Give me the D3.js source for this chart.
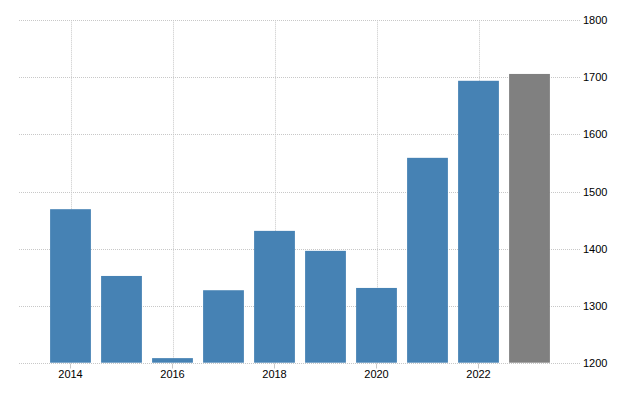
<!DOCTYPE html>
<html>
<head>
<meta charset="utf-8">
<script src="https://cdn.jsdelivr.net/npm/d3@7"></script>
<style>
  html, body { margin: 0; padding: 0; background: #fff; }
  svg { display: block; }
  text { font-family: "Liberation Sans", Arial, sans-serif; }
</style>
</head>
<body>
<svg id="chart" width="640" height="400"></svg>
<script>
const years = [2014, 2015, 2016, 2017, 2018, 2019, 2020, 2021, 2022, 2023];
const values = [1469, 1352, 1208, 1327, 1431, 1396, 1331, 1559, 1694, 1706];
const barColors = ["#4682b4", "#4682b4", "#4682b4", "#4682b4", "#4682b4", "#4682b4", "#4682b4", "#4682b4", "#4682b4", "#808080"];
const yTicks = [1200, 1300, 1400, 1500, 1600, 1700, 1800];
const xTickYears = [2014, 2016, 2018, 2020, 2022];

const svg = d3.select("#chart");
const gLeft = 19, gRight = 580, gTop = 20.3, gBottom = 362.7;

const x = d3.scaleBand()
  .domain(years)
  .range([45, 555])
  .paddingInner(0.2)
  .paddingOuter(0.1);

const y = d3.scaleLinear().domain([1200, 1800]).range([gBottom, gTop]);

const grid = svg.append("g");
grid.selectAll("line.h")
  .data(yTicks)
  .join("line")
  .attr("class", "h")
  .attr("x1", gLeft).attr("x2", gRight)
  .attr("y1", d => Math.round(y(d)) + 0.5)
  .attr("y2", d => Math.round(y(d)) + 0.5)
  .attr("stroke", "#c8c8c8")
  .attr("stroke-dasharray", "1,1");

grid.selectAll("line.v")
  .data(xTickYears)
  .join("line")
  .attr("class", "v")
  .attr("x1", d => Math.round(x(d) + x.bandwidth() / 2) + 0.5)
  .attr("x2", d => Math.round(x(d) + x.bandwidth() / 2) + 0.5)
  .attr("y1", gTop)
  .attr("y2", gBottom)
  .attr("stroke", "#c8c8c8")
  .attr("stroke-dasharray", "1,1");

svg.append("g").selectAll("rect")
  .data(values)
  .join("rect")
  .attr("x", (d, i) => x(years[i]))
  .attr("width", x.bandwidth())
  .attr("y", d => y(d))
  .attr("height", d => y(1200) - y(d))
  .attr("fill", (d, i) => barColors[i]);

const xAxis = d3.axisBottom(x)
  .tickValues(xTickYears)
  .tickSize(5)
  .tickPadding(2)
  .tickSizeOuter(0);
const gx = svg.append("g")
  .attr("transform", `translate(0,${Math.round(gBottom) + 0.5})`)
  .call(xAxis);
gx.select(".domain").remove();
gx.selectAll(".tick line").attr("stroke", "#c8c8c8");
gx.selectAll(".tick text")
  .attr("font-size", "11px")
  .attr("fill", "#000")
  .attr("font-family", "Liberation Sans, Arial, sans-serif");

const yAxis = d3.axisRight(y)
  .tickValues(yTicks)
  .tickSize(0)
  .tickPadding(3)
  .tickFormat(d3.format("d"));
const gy = svg.append("g")
  .attr("transform", `translate(${gRight},0)`)
  .call(yAxis);
gy.select(".domain").remove();
gy.selectAll(".tick text")
  .attr("font-size", "11px")
  .attr("fill", "#000")
  .attr("font-family", "Liberation Sans, Arial, sans-serif");
</script>
</body>
</html>
